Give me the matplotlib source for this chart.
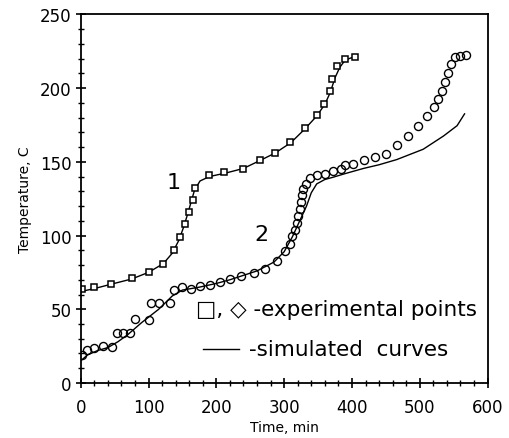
import matplotlib
matplotlib.use("Agg")
import matplotlib.pyplot as plt

# experimental points, curve 1 (squares)
t1 = [2, 20, 44, 75, 100, 122, 138, 147, 154, 160, 165, 169, 189, 212, 240,
      264, 286, 309, 331, 349, 359, 367, 371, 378, 389, 404]
T1 = [64, 65, 67, 71, 75.5, 81, 90, 99, 108, 116, 124, 132, 141, 143, 145,
      151.5, 156, 163.5, 173, 181.5, 189, 198, 206, 215, 220, 221]

# experimental points, curve 2 (diamonds)
t2 = [2.5, 10, 20, 33, 46, 54, 63, 73, 80, 100, 104, 116, 132, 138, 149, 163,
      176, 191, 205, 220, 237, 255, 272, 289, 301, 308, 312, 316, 319, 321,
      323, 325, 326, 328, 332, 338, 349, 360, 372, 384, 390, 401, 417, 434,
      450, 466, 483, 498, 510, 521, 527, 532, 537, 542, 546, 552, 560, 568]
T2 = [19, 22.5, 23.5, 25, 24.5, 34, 34, 34, 43.5, 43, 54, 54, 54, 63, 65, 63.5,
      65.5, 66.5, 68.5, 70.5, 72.5, 74.5, 77.5, 83, 89.5, 94.5, 99.5, 104, 108.5,
      113, 118, 123, 127.5, 131.5, 135, 139, 141, 142, 143.5, 145, 147.5, 148.5,
      151.5, 153.5, 155.5, 161.5, 167.5, 174.5, 181, 187, 192.5, 198, 204, 210.5,
      216, 221, 222, 222.5]

# simulated curves
s1_t = [0, 20, 45, 75, 100, 122, 135, 145, 152, 158, 163, 168, 176, 190, 215,
        240, 265, 287, 310, 330, 348, 360, 368, 375, 382, 390, 402]
s1_T = [62, 64, 67, 70.5, 75, 81, 88, 97, 106, 115, 123, 131, 137, 140, 142.5,
        145.5, 151, 156, 163, 172, 181, 189, 197, 207, 214, 219, 221]
s2_t = [0, 10, 25, 40, 55, 70, 90, 115, 135, 150, 175, 200, 220, 260, 285,
        300, 312, 322, 333, 340, 348, 360, 372, 390, 417, 440, 466, 505, 535,
        555, 566]
s2_T = [15, 19, 22, 24, 28, 33, 41, 50, 59, 63, 65, 67.5, 70, 76, 82, 89,
        99, 109, 120, 129, 135, 138, 139.5, 142, 145.5, 148, 151.5, 158.5,
        167.5, 174.5, 182.5]

plt.rcParams['font.family'] = ['DejaVu Sans']
fig = plt.figure(figsize=(5.09, 4.39), dpi=100)
ax = fig.add_axes([0.1585, 0.1253, 0.7995, 0.8398])

ax.plot(s1_t, s1_T, color='black', lw=1)
ax.plot(s2_t, s2_T, color='black', lw=1)
ax.plot(t1, T1, ls='none', marker='s', ms=5, mfc='white', mec='black', mew=1.1)
ax.plot(t2, T2, ls='none', marker='o', ms=5.8, mfc='none', mec='black', mew=1)

ax.set_xlim(0, 600)
ax.set_ylim(0, 250)
ax.set_xticks(range(0, 601, 100))
ax.set_yticks(range(0, 251, 50))
ax.set_xticks(range(0, 601, 20), minor=True)
ax.set_yticks(range(0, 251, 10), minor=True)
ax.tick_params(which='major', direction='inout', length=7, width=1.2,
               labelsize=12, top=False, right=False)
ax.tick_params(axis='x', which='major', pad=7)
ax.tick_params(axis='y', which='major', pad=3)
ax.tick_params(which='minor', direction='inout', length=4, width=1,
               top=False, right=False)
for s in ax.spines.values():
    s.set_linewidth(1.3)

ax.set_xlabel('Time, min', fontsize=10, labelpad=3)
ax.set_ylabel('Temperature, C', fontsize=10, labelpad=6)

ax.text(137, 136, '1', fontsize=16, ha='center', va='center')
ax.text(267, 101, '2', fontsize=16, ha='center', va='center')

ax.text(170, 50, '\u25a1, \u25c7 -experimental points', fontsize=15.5,
        ha='left', va='center')
ax.plot([180, 233], [23, 23], color='black', lw=1)
ax.text(248, 23, '-simulated  curves', fontsize=15.5, ha='left', va='center')

fig.savefig('out.png', dpi=100)
